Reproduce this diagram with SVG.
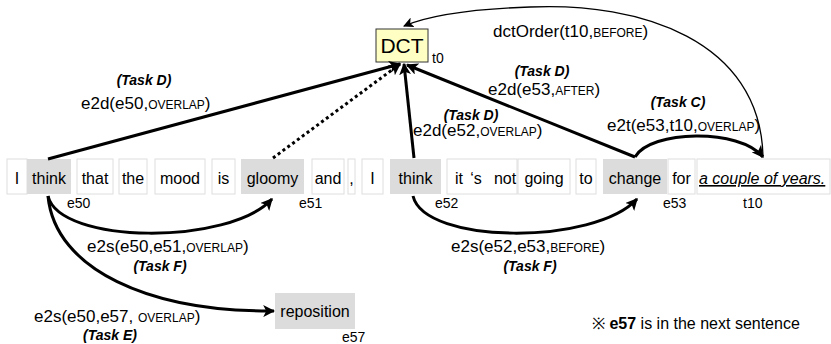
<svg xmlns="http://www.w3.org/2000/svg" width="831" height="344" viewBox="0 0 831 344">
<style>
text{font-family:"Liberation Sans",Arial,sans-serif;fill:#000}
.tok{fill:#fff;stroke:#dedede;stroke-width:1}
.ev{fill:#dcdcdc;stroke:none}
.w{font-size:16px;text-anchor:middle}
.id{font-size:14px}
.lb{font-size:17px}
.sc{font-size:12px}
.task{font-size:14px;font-weight:bold;font-style:italic}
.thick{fill:none;stroke:#000;stroke-width:3}
.thin{fill:none;stroke:#000;stroke-width:1.3}
</style>
<defs>
<marker id="ah" viewBox="0 0 10 10" refX="9" refY="5" markerWidth="4" markerHeight="4" orient="auto" markerUnits="strokeWidth">
<path d="M0,0 L10,5 L0,10 L2.5,5 Z" fill="#000"/>
</marker>
<marker id="ahs" viewBox="0 0 10 10" refX="9" refY="5" markerWidth="8" markerHeight="8" orient="auto" markerUnits="strokeWidth">
<path d="M0,0 L10,5 L0,10 L2.5,5 Z" fill="#000"/>
</marker>
</defs>

<g id="tokens">
<rect class="tok" x="7" y="159" width="20" height="35"/>
<text class="w" x="17" y="184">I</text>
<rect class="tok" x="77" y="159" width="36" height="35"/>
<text class="w" x="95" y="184">that</text>
<rect class="tok" x="119" y="159" width="28" height="35"/>
<text class="w" x="133" y="184">the</text>
<rect class="tok" x="155" y="159" width="50" height="35"/>
<text class="w" x="180" y="184">mood</text>
<rect class="tok" x="212" y="159" width="23" height="35"/>
<text class="w" x="223.5" y="184">is</text>
<rect class="tok" x="312" y="159" width="32" height="35"/>
<text class="w" x="328" y="184">and</text>
<rect class="tok" x="348" y="159" width="7" height="35"/>
<text class="w" x="351.5" y="184">,</text>
<rect class="tok" x="362" y="159" width="21" height="35"/>
<text class="w" x="372.5" y="184">I</text>
<rect class="tok" x="447" y="159" width="70" height="35"/>
<text class="w" x="459" y="184">it</text>
<text class="w" x="476" y="184">‘s</text>
<text class="w" x="505" y="184">not</text>
<rect class="tok" x="518" y="159" width="52" height="35"/>
<text class="w" x="544" y="184">going</text>
<rect class="tok" x="576" y="159" width="20" height="35"/>
<text class="w" x="586" y="184">to</text>
<rect class="tok" x="668" y="159" width="27" height="35"/>
<text class="w" x="681.5" y="184">for</text>
</g>

<g id="e50">
<rect class="ev" x="27" y="159" width="44" height="35"/>
<text class="w" x="49" y="184">think</text>
<text class="id" x="67" y="208">e50</text>
</g>
<g id="e51">
<rect class="ev" x="241" y="159" width="63" height="35"/>
<text class="w" x="272.5" y="184">gloomy</text>
<text class="id" x="299" y="208">e51</text>
</g>
<g id="e52">
<rect class="ev" x="390" y="159" width="51" height="35"/>
<text class="w" x="415.5" y="184">think</text>
<text class="id" x="435" y="208">e52</text>
</g>
<g id="e53">
<rect class="ev" x="603" y="159" width="64" height="35"/>
<text class="w" x="635" y="184">change</text>
<text class="id" x="663" y="208">e53</text>
</g>
<g id="t10">
<rect class="tok" x="697" y="159" width="133" height="35"/>
<text x="699" y="184" style="font-size:16px;font-style:italic;text-decoration:underline">a couple of years.</text>
<text class="id" x="743" y="208">t10</text>
</g>
<g id="dct">
<rect x="376" y="29" width="52" height="33" fill="#ffffc4" stroke="#333" stroke-width="1"/>
<text x="402" y="53" style="font-size:21px;text-anchor:middle">DCT</text>
<text class="id" x="432" y="63">t0</text>
</g>
<g id="e57">
<rect class="ev" x="275" y="293" width="80" height="36"/>
<text class="w" x="315" y="317">reposition</text>
<text class="id" x="342" y="342">e57</text>
</g>

<g id="connectors">
<path class="thick" d="M48,159 L400,64" marker-end="url(#ah)"/>
<path d="M273,158 L400,64" fill="none" stroke="#000" stroke-width="3" stroke-dasharray="3 3" marker-end="url(#ah)"/>
<path class="thick" d="M414,158 L404,64" marker-end="url(#ah)"/>
<path class="thick" d="M635,157 L407,65" marker-end="url(#ah)"/>
<path class="thick" d="M635,157 C650,130 740,128 763,157" marker-end="url(#ah)"/>
<path class="thin" d="M763,156 C760,40 640,2 530,7 C470,9 430,15 404,26" marker-end="url(#ahs)"/>
<path class="thick" d="M48,196 C60,245 230,245 272,199" marker-end="url(#ah)"/>
<path class="thick" d="M48,196 C55,270 150,312 274,311" marker-end="url(#ah)"/>
<path class="thick" d="M413,196 C425,245 595,245 637,199" marker-end="url(#ah)"/>
</g>

<g id="labels">
<text class="task" x="144" y="85" text-anchor="middle">(Task D)</text>
<text class="lb" x="81" y="109">e2d(e50,<tspan class="sc">OVERLAP</tspan>)</text>
<text class="lb" x="493" y="37">dctOrder(t10,<tspan class="sc">BEFORE</tspan>)</text>
<text class="task" x="542" y="76" text-anchor="middle">(Task D)</text>
<text class="lb" x="488" y="95">e2d(e53,<tspan class="sc">AFTER</tspan>)</text>
<text class="task" x="471" y="120" text-anchor="middle">(Task D)</text>
<text class="lb" x="413" y="136">e2d(e52,<tspan class="sc">OVERLAP</tspan>)</text>
<text class="task" x="678" y="107" text-anchor="middle">(Task C)</text>
<text class="lb" x="607" y="131">e2t(e53,t10,<tspan class="sc">OVERLAP</tspan>)</text>
<text class="lb" x="87" y="252">e2s(e50,e51,<tspan class="sc">OVERLAP</tspan>)</text>
<text class="task" x="160" y="271" text-anchor="middle">(Task F)</text>
<text class="lb" x="34" y="322">e2s(e50,e57, <tspan class="sc">OVERLAP</tspan>)</text>
<text class="task" x="110" y="340" text-anchor="middle">(Task E)</text>
<text class="lb" x="451" y="252">e2s(e52,e53,<tspan class="sc">BEFORE</tspan>)</text>
<text class="task" x="530" y="271" text-anchor="middle">(Task F)</text>
<text x="592" y="329" style="font-size:16px">※ <tspan font-weight="bold">e57</tspan> is in the next sentence</text>
</g>
</svg>
